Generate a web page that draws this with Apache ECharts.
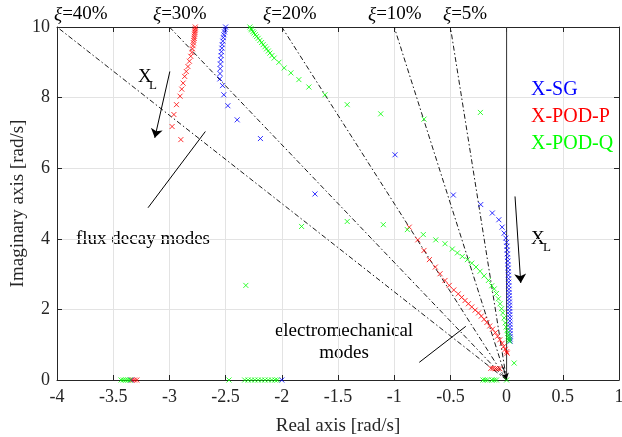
<!DOCTYPE html>
<html>
<head>
<meta charset="utf-8">
<script src="https://cdn.jsdelivr.net/npm/echarts/dist/echarts.min.js"></script>
<style>
  html, body { margin: 0; padding: 0; background: #fff; }
  #main { width: 622px; height: 437px; }
</style>
</head>
<body>
<div id="main"></div>
<script>
// root locus data [real, imag]
var dampingRatios = [0.4, 0.3, 0.2, 0.1, 0.05];
var dampingLabels = ['40%', '30%', '20%', '10%', '5%'];

var xsg = [
  [-2.50, 10.0], [-2.505, 9.93], [-2.51, 9.86], [-2.515, 9.78], [-2.52, 9.70], [-2.525, 9.60],
  [-2.53, 9.50], [-2.533, 9.40], [-2.537, 9.30], [-2.54, 9.19], [-2.543, 9.07], [-2.546, 8.95],
  [-2.548, 8.82], [-2.55, 8.68], [-2.551, 8.53], [-2.527, 8.34], [-2.516, 8.08], [-2.48, 7.77],
  [-2.397, 7.37], [-2.19, 6.84], [-1.705, 5.27], [-0.993, 6.38], [-0.474, 5.24], [-0.23, 4.97],
  [-0.127, 4.73], [-0.069, 4.54], [-0.04, 4.33], [-0.022, 4.16], [-0.007, 4.02],
  [0.000, 3.90], [0.003, 3.79], [0.005, 3.68], [0.007, 3.57], [0.009, 3.47], [0.011, 3.37],
  [0.012, 3.27], [0.014, 3.17], [0.015, 3.07], [0.016, 2.97], [0.018, 2.87], [0.019, 2.77],
  [0.020, 2.67], [0.021, 2.57], [0.022, 2.48], [0.023, 2.39], [0.024, 2.30], [0.025, 2.21],
  [0.026, 2.12], [0.027, 2.03], [0.028, 1.94], [0.028, 1.85], [0.029, 1.76], [0.029, 1.67],
  [0.030, 1.58], [0.030, 1.49], [0.031, 1.40], [0.031, 1.31], [0.031, 1.23], [0.032, 1.16],
  [0.032, 1.10],
  [-2.0, 0], [-3.34, 0]
];

var xpodp = [
  [-2.77, 10.0], [-2.77, 9.95], [-2.772, 9.90], [-2.774, 9.85], [-2.776, 9.80], [-2.778, 9.74],
  [-2.78, 9.68], [-2.783, 9.62], [-2.786, 9.55], [-2.79, 9.47], [-2.795, 9.38], [-2.80, 9.28],
  [-2.81, 9.17], [-2.822, 9.03], [-2.835, 8.88], [-2.85, 8.74], [-2.864, 8.60], [-2.878, 8.41],
  [-2.89, 8.24], [-2.905, 8.04], [-2.937, 7.80], [-2.96, 7.52], [-2.976, 7.18], [-2.898, 6.81],
  [-0.866, 4.33], [-0.79, 3.97], [-0.735, 3.67], [-0.687, 3.41], [-0.634, 3.20], [-0.592, 3.01],
  [-0.548, 2.82], [-0.51, 2.68], [-0.47, 2.55], [-0.43, 2.44], [-0.40, 2.34], [-0.37, 2.25],
  [-0.34, 2.16], [-0.31, 2.07], [-0.28, 1.98], [-0.25, 1.90], [-0.225, 1.81], [-0.20, 1.72],
  [-0.175, 1.63], [-0.15, 1.53], [-0.125, 1.44], [-0.10, 1.34], [-0.08, 1.24], [-0.06, 1.14],
  [-0.04, 1.04], [-0.025, 0.95], [-0.012, 0.87], [0.0, 0.80], [0.005, 0.76],
  [-0.14, 0.33], [-0.12, 0.33], [-0.10, 0.32], [-0.08, 0.32], [-0.06, 0.32],
  [-3.33, 0], [-3.31, 0], [-3.29, 0]
];

var xpodq = [
  [-2.284, 10.0], [-2.275, 9.95], [-2.269, 9.92], [-2.258, 9.87], [-2.248, 9.83], [-2.236, 9.78],
  [-2.224, 9.73], [-2.21, 9.68], [-2.195, 9.62], [-2.18, 9.56], [-2.166, 9.50], [-2.15, 9.44],
  [-2.136, 9.38], [-2.12, 9.32], [-2.106, 9.26], [-2.088, 9.19], [-2.068, 9.12], [-2.026, 9.00],
  [-1.979, 8.84], [-1.919, 8.70], [-1.848, 8.51], [-1.759, 8.30], [-1.616, 8.08], [-1.418, 7.80],
  [-1.12, 7.54], [-0.735, 7.39], [-0.233, 7.58],
  [-1.824, 4.35], [-1.418, 4.49], [-1.097, 4.40], [-0.883, 4.26], [-0.741, 4.12], [-0.63, 3.97],
  [-0.548, 3.86], [-0.483, 3.71], [-0.438, 3.60], [-0.394, 3.50], [-0.349, 3.41], [-0.31, 3.31],
  [-0.272, 3.20], [-0.236, 3.08], [-0.20, 2.95], [-0.162, 2.82], [-0.132, 2.67], [-0.11, 2.58],
  [-0.09, 2.45], [-0.073, 2.30], [-0.058, 2.16], [-0.045, 2.02], [-0.034, 1.90], [-0.022, 1.76],
  [-0.012, 1.62], [-0.004, 1.50], [0.004, 1.40], [0.010, 1.32], [0.015, 1.25], [0.019, 1.19],
  [0.022, 1.14], [0.025, 1.10],
  [-2.32, 2.68], [0.067, 0.48],
  [-3.43, 0], [-3.41, 0], [-3.39, 0], [-3.37, 0], [-3.35, 0], [-2.47, 0], [-2.33, 0], [-2.30, 0],
  [-2.27, 0], [-2.24, 0], [-2.21, 0], [-2.18, 0], [-2.15, 0], [-2.12, 0], [-2.09, 0], [-2.06, 0],
  [-2.04, 0], [-0.21, 0], [-0.19, 0], [-0.17, 0], [-0.13, 0], [-0.11, 0], [-0.09, 0], [0.0, 0]
];

var FONT = "'Liberation Serif', 'Times New Roman', serif";
var AX = '#262626';
var crossMark = 'path://M0,0L10,10M10,0L0,10';

function scatter(name, data, color) {
  return {
    name: name,
    type: 'scatter',
    data: data,
    symbol: crossMark,
    symbolSize: 5,
    z: 3,
    itemStyle: { color: 'rgba(0,0,0,0)', borderColor: color, borderWidth: 1 }
  };
}

// constant damping lines through the origin
var dampSeries = dampingRatios.map(function (z) {
  return {
    type: 'line',
    data: [[0, 0], [-z * 10, 10]],
    symbol: 'none',
    silent: true,
    z: 2,
    lineStyle: { color: '#1a1a1a', width: 1, type: [5, 2.5, 1.5, 2.5] }
  };
});

var myChart = echarts.init(document.getElementById('main'));

var axisCommon = {
  type: 'value',
  axisLine: { show: true, onZero: false, lineStyle: { color: AX, width: 1 } },
  axisTick: { inside: true, length: 5, lineStyle: { color: AX } }
};

var option = {
  animation: false,
  backgroundColor: '#fff',
  grid: { left: 57, right: 3, top: 27, bottom: 57, outerBoundsMode: 'none', containLabel: false },
  legend: {
    orient: 'vertical',
    left: 526,
    top: 80,
    padding: 0,
    icon: 'rect',
    itemWidth: 0,
    itemHeight: 20,
    itemGap: 7,
    selectedMode: false,
    itemStyle: { opacity: 0, borderWidth: 0 },
    textStyle: { fontFamily: FONT, fontSize: 20 },
    data: [
      { name: 'X-SG', textStyle: { color: '#0000ff' } },
      { name: 'X-POD-P', textStyle: { color: '#ff0000' } },
      { name: 'X-POD-Q', textStyle: { color: '#00ff00' } }
    ]
  },
  xAxis: [
    Object.assign({}, axisCommon, {
      min: -4, max: 1, interval: 0.5, position: 'bottom',
      name: 'Real axis [rad/s]', nameLocation: 'middle', nameGap: 37, nameMoveOverlap: false,
      nameTextStyle: { fontFamily: FONT, fontSize: 19, color: AX },
      axisLabel: { fontFamily: FONT, fontSize: 18, color: AX, margin: 8 },
      splitLine: { show: true, lineStyle: { color: '#e3e3e3' } }
    }),
    Object.assign({}, axisCommon, {
      min: -4, max: 1, interval: 0.5, position: 'top',
      axisLabel: { show: false }, splitLine: { show: false }
    })
  ],
  yAxis: [
    Object.assign({}, axisCommon, {
      min: 0, max: 10, interval: 2, position: 'left',
      name: 'Imaginary axis [rad/s]', nameLocation: 'middle', nameGap: 29, nameMoveOverlap: false,
      nameTextStyle: { fontFamily: FONT, fontSize: 19, color: AX },
      axisLabel: { fontFamily: FONT, fontSize: 18, color: AX, margin: 7 },
      splitLine: { show: true, lineStyle: { color: '#e3e3e3' } }
    }),
    Object.assign({}, axisCommon, {
      min: 0, max: 10, interval: 2, position: 'right',
      axisLabel: { show: false }, splitLine: { show: false }
    })
  ],
  series: dampSeries.concat([
    {   // zero damping = imaginary axis
      type: 'line', data: [[0, 0], [0, 10]], symbol: 'none', silent: true, z: 2,
      lineStyle: { color: '#333', width: 1 }
    },
    scatter('X-SG', xsg, '#0000ff'),
    scatter('X-POD-P', xpodp, '#ff0000'),
    scatter('X-POD-Q', xpodq, '#00ff00'),
    {   // arrows for X_L direction
      type: 'lines', coordinateSystem: 'cartesian2d', silent: true, z: 4,
      symbol: ['none', 'arrow'], symbolSize: 9,
      lineStyle: { color: '#000', width: 1, opacity: 1 },
      data: [
        { coords: [[-2.996, 8.74], [-3.13, 6.86]] },
        { coords: [[0.075, 5.20], [0.126, 2.75]] }
      ]
    },
    {   // little arrow into the origin
      type: 'lines', coordinateSystem: 'cartesian2d', silent: true, z: 4,
      symbol: ['none', 'arrow'], symbolSize: 6,
      lineStyle: { color: '#000', width: 1, opacity: 1 },
      data: [{ coords: [[-0.03, 0.36], [0.0, 0.02]] }]
    },
    {   // pointer lines for the mode texts
      type: 'lines', coordinateSystem: 'cartesian2d', silent: true, z: 4,
      symbol: 'none',
      lineStyle: { color: '#000', width: 1, opacity: 1 },
      data: [
        { coords: [[-3.19, 4.88], [-2.68, 7.04]] },
        { coords: [[-0.777, 0.50], [-0.363, 1.52]] }
      ]
    }
  ]),
  graphic: []
};

// xi labels above the frame
var xiLeft = [54, 153, 263, 368, 443];
dampingLabels.forEach(function (t, i) {
  option.graphic.push({
    type: 'text', x: xiLeft[i], y: 5,
    style: {
      text: '{i|ξ}=' + t, fill: '#000', font: '19px ' + FONT, verticalAlign: 'top',
      rich: { i: { fontStyle: 'italic', fontFamily: FONT, fontSize: 19 } }
    }
  });
});

function txt(x, y, s, size, align) {
  option.graphic.push({
    type: 'text', x: x, y: y,
    style: { text: s, fill: '#000', font: size + 'px ' + FONT, align: align || 'left', verticalAlign: 'top', lineHeight: 22 }
  });
}
txt(138, 66, 'X', 19); txt(149, 75, 'L', 13);
txt(531, 228, 'X', 19); txt(543, 237, 'L', 13);
txt(76, 228, 'flux decay modes', 19);
txt(344, 320, 'electromechanical\nmodes', 19, 'center');

myChart.setOption(option);
</script>
</body>
</html>
